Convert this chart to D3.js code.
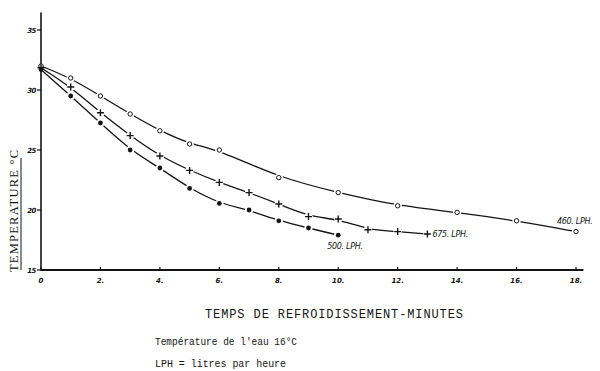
<!DOCTYPE html>
<html><head><meta charset="utf-8">
<script src="https://cdn.jsdelivr.net/npm/d3@7"></script>
<style>body{margin:0;background:#fff}svg{display:block}</style>
</head><body>
<svg id="c" width="600" height="371"></svg>
<script>
// ---- data ----
const minutes460 = [0,1,2,3,4,5,6,8,10,12,14,16,18];
const temp460    = [32.0,31.0,29.5,28.0,26.6,25.5,25.0,22.7,21.45,20.35,19.8,19.1,18.2];
const minutes675 = [0,1,2,3,4,5,6,7,8,9,10,11,12,13];
const temp675    = [31.85,30.25,28.1,26.2,24.5,23.3,22.3,21.45,20.5,19.45,19.25,18.35,18.2,18.0];
const minutes500 = [0,1,2,3,4,5,6,7,8,9,10];
const temp500    = [31.7,29.5,27.25,25.0,23.5,21.8,20.55,20.0,19.1,18.5,17.9];
const seriesNames = ["460. LPH.","675. LPH.","500. LPH."];
const xTicks = [0,2,4,6,8,10,12,14,16,18];
const yTicks = [15,20,25,30,35];
const xTitle = "TEMPS DE REFROIDISSEMENT-MINUTES";
const yTitle = "TEMPERATURE °C";
const notes = ["Température de l'eau 16°C", "LPH = litres  par heure"];

// ---- drawing ----
const svg = d3.select("#c");
const x = d3.scaleLinear().domain([0,18]).range([41,576]);
const y = d3.scaleLinear().domain([15,35]).range([270,30]);
const ink = "#141414";

// axes lines
svg.append("line").attr("x1",x(0)).attr("x2",x(18.25)).attr("y1",y(15)).attr("y2",y(15))
  .attr("stroke",ink).attr("stroke-width",1.8);
svg.append("line").attr("x1",x(0)).attr("x2",x(0)).attr("y1",y(15)).attr("y2",y(36.45))
  .attr("stroke",ink).attr("stroke-width",1.6);

// x ticks
const xg = svg.append("g");
xTicks.forEach(t=>{
  xg.append("line").attr("x1",x(t)).attr("x2",x(t)).attr("y1",y(15)-3).attr("y2",y(15)+1)
    .attr("stroke",ink).attr("stroke-width",1.2);
  xg.append("text").attr("x",x(t)).attr("y",y(15)+13).attr("text-anchor","middle")
    .attr("font-family","DejaVu Sans").attr("font-style","italic").attr("font-weight","bold")
    .attr("font-size",7).attr("fill",ink).text(t===0?"0":t+".");
});
// y ticks
const yg = svg.append("g");
yTicks.forEach(t=>{
  yg.append("line").attr("x1",x(0)-4).attr("x2",x(0)).attr("y1",y(t)).attr("y2",y(t))
    .attr("stroke",ink).attr("stroke-width",1.2);
  yg.append("text").attr("x",x(0)-5).attr("y",y(t)+3).attr("text-anchor","end")
    .attr("font-family","DejaVu Sans").attr("font-style","italic").attr("font-weight","bold")
    .attr("font-size",7).attr("fill",ink).attr("letter-spacing",-0.5).text(t);
});

// series
const series = [
  {xs:minutes460, ys:temp460, mark:"open"},
  {xs:minutes675, ys:temp675, mark:"plus"},
  {xs:minutes500, ys:temp500, mark:"dot"}
];
const line = d3.line().x(d=>x(d[0])).y(d=>y(d[1])).curve(d3.curveBasis);
series.forEach(s=>{
  const pts = s.xs.map((v,i)=>[v,s.ys[i]]);
  svg.append("path").attr("d",line(pts)).attr("fill","none").attr("stroke",ink).attr("stroke-width",1.3);
});
series.forEach(s=>{
  const pts = s.xs.map((v,i)=>[v,s.ys[i]]);
  const g = svg.append("g");
  pts.forEach((p,i)=>{
    const cx = x(p[0]), cy = y(p[1]);
    if (i>0) g.append("circle").attr("cx",cx).attr("cy",cy).attr("r",4.2).attr("fill","#fff");
    if (s.mark==="open") {
      g.append("circle").attr("cx",cx).attr("cy",cy).attr("r",2.2).attr("fill","#fff")
        .attr("stroke",ink).attr("stroke-width",1);
    } else if (s.mark==="dot") {
      g.append("circle").attr("cx",cx).attr("cy",cy).attr("r",2.4).attr("fill",ink);
    } else {
      g.append("path").attr("d",`M${cx-3.5},${cy}H${cx+3.5}M${cx},${cy-3.5}V${cy+3.5}`)
        .attr("stroke",ink).attr("stroke-width",1.4);
    }
  });
});

// series labels
const lab = (tx,ty,txt)=>svg.append("text").attr("x",tx).attr("y",ty)
  .attr("font-family","DejaVu Sans").attr("font-style","italic").attr("font-size",8)
  .attr("fill",ink).attr("letter-spacing",-0.3).text(txt);
lab(x(18)-19, y(temp460[temp460.length-1])-8, seriesNames[0]);
lab(x(13)+5, y(temp675[temp675.length-1])+3, seriesNames[1]);
lab(x(10)-11, y(temp500[temp500.length-1])+14, seriesNames[2]);

// y title
svg.append("text").attr("transform",`translate(18,${y(15)+2}) rotate(-90)`)
  .attr("font-family","Liberation Serif").attr("font-size",12.5).attr("fill",ink)
  .attr("textLength",122).attr("lengthAdjust","spacing").text(yTitle);
svg.append("line").attr("x1",21).attr("x2",21).attr("y1",y(15)).attr("y2",158)
  .attr("stroke",ink).attr("stroke-width",1);

// x title & notes
svg.append("text").attr("x",205).attr("y",318).attr("font-family","Liberation Mono")
  .attr("font-size",12).attr("fill",ink).attr("textLength",258).attr("lengthAdjust","spacing").text(xTitle);
svg.append("text").attr("x",155).attr("y",345).attr("font-family","Liberation Mono")
  .attr("font-size",11).attr("fill",ink).attr("textLength",142).attr("lengthAdjust","spacingAndGlyphs").text(notes[0]);
svg.append("text").attr("x",155).attr("y",367).attr("font-family","Liberation Mono")
  .attr("font-size",11).attr("fill",ink).attr("textLength",131).attr("lengthAdjust","spacingAndGlyphs").text(notes[1]);
</script>
</body></html>
